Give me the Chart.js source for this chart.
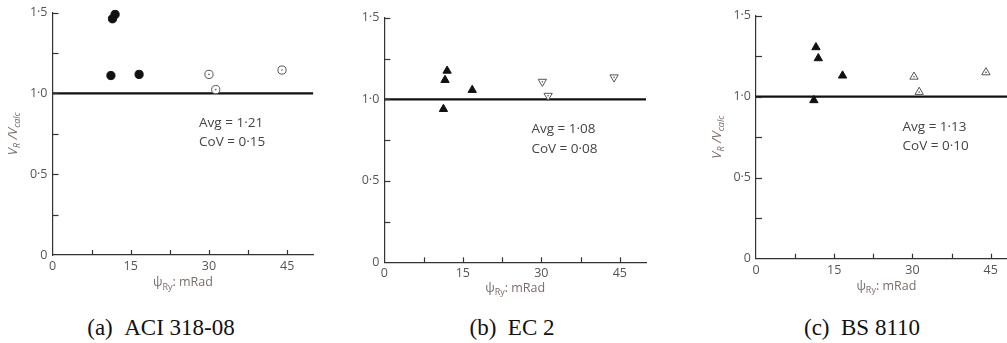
<!DOCTYPE html>
<html><head><meta charset="utf-8">
<script src="https://cdn.jsdelivr.net/npm/chart.js@4.4.0/dist/chart.umd.min.js"></script>
<style>
html,body{margin:0;padding:0;background:#fff;width:1007px;height:343px;overflow:hidden;position:relative}
.panel{position:absolute;top:0;height:300px;width:330px}
.cap{position:absolute;top:314px;font-family:"Liberation Serif","DejaVu Serif",serif;font-size:23px;line-height:28px;color:#111;white-space:nowrap;transform:translateX(-50%)}
</style></head><body>
<div class="panel" style="left:0"><canvas id="ca"></canvas></div>
<div class="panel" style="left:330px"><canvas id="cb"></canvas></div>
<div class="panel" style="left:700px"><canvas id="cc"></canvas></div>
<div class="cap" id="capA" style="left:161px"></div>
<div class="cap" id="capB" style="left:512px"></div>
<div class="cap" id="capC" style="left:862px"></div>
<script>
// ---- data ----
const xTickLabels = {0:'0', 15:'15', 30:'30', 45:'45'};
const yTickLabels = {0:'0', 0.5:'0·5', 1:'1·0', 1.5:'1·5'};
const refY = 1.0;
// (a) ACI 318-08
const aciFilledX = [11.2, 11.5, 12.0, 16.6];
const aciFilledY = [1.11, 1.461, 1.488, 1.117];
const aciOpenX = [30.0, 31.3, 44.0];
const aciOpenY = [1.117, 1.023, 1.144];
// (b) EC 2
const ecFilledX = [11.3, 11.6, 12.0, 16.8];
const ecFilledY = [0.94, 1.118, 1.175, 1.057];
const ecOpenX = [30.2, 31.3, 43.9];
const ecOpenY = [1.108, 1.022, 1.135];
// (c) BS 8110
const bsFilledX = [11.1, 11.5, 11.95, 16.6];
const bsFilledY = [0.978, 1.305, 1.237, 1.13];
const bsOpenX = [30.3, 31.3, 44.1];
const bsOpenY = [1.123, 1.029, 1.15];
const avgLabels = ['Avg = 1·21', 'Avg = 1·08', 'Avg = 1·13'];
const covLabels = ['CoV = 0·15', 'CoV = 0·08', 'CoV = 0·10'];
const captions = ['(a)\u2002ACI 318-08', '(b)\u2002EC 2', '(c)\u2002BS 8110'];

document.getElementById('capA').textContent = captions[0];
document.getElementById('capB').textContent = captions[1];
document.getElementById('capC').textContent = captions[2];

const FONT = "'Open Sans','Noto Sans',sans-serif";
Chart.defaults.font.family = FONT;
Chart.defaults.color = '#555';

function pts(xs, ys){ return xs.map((x,i)=>({x:x, y:ys[i]})); }

const decor = {
  id:'decor',
  afterDraw(chart){
    const o = chart.options.plugins.decor;
    const ctx = chart.ctx, xs = chart.scales.x, ys = chart.scales.y, ca = chart.chartArea;
    ctx.save();
    // inward tick marks
    ctx.strokeStyle = '#333'; ctx.lineWidth = 1.2;
    ys.ticks.forEach(t=>{
      if (t.value <= 0 || Math.abs(t.value/0.25 - Math.round(t.value/0.25))>1e-6) return;
      const py = Math.round(ys.getPixelForValue(t.value))+0.5;
      ctx.beginPath(); ctx.moveTo(ca.left, py); ctx.lineTo(ca.left+6, py); ctx.stroke();
    });
    xs.ticks.forEach(t=>{
      if (t.value <= 0 || Math.abs(t.value/7.5 - Math.round(t.value/7.5))>1e-6) return;
      const px = Math.round(xs.getPixelForValue(t.value))+0.5;
      ctx.beginPath(); ctx.moveTo(px, ca.bottom); ctx.lineTo(px, ca.bottom-5); ctx.stroke();
    });
    // annotations
    ctx.fillStyle = '#444'; ctx.font = '13.5px '+FONT; ctx.textBaseline='middle'; ctx.textAlign='left';
    ctx.fillText(o.avg, xs.getPixelForValue(28.1), ys.getPixelForValue(0.815));
    ctx.fillText(o.cov, xs.getPixelForValue(28.1), ys.getPixelForValue(0.695));
    // x title: psi_Ry: mRad
    const tc = '#7a6d68';
    ctx.fillStyle = tc;
    const big = '12.5px '+FONT, small = '9px '+FONT;
    ctx.font = big; const w1 = ctx.measureText('ψ').width, w3 = ctx.measureText(': mRad').width;
    ctx.font = small; const w2 = ctx.measureText('Ry').width;
    let x0 = (ca.left+ca.right)/2 - (w1+w2+w3)/2, yT = o.xTitleY;
    ctx.textBaseline='alphabetic';
    ctx.font = big; ctx.fillText('ψ', x0, yT+4.5);
    ctx.font = small; ctx.fillText('Ry', x0+w1, yT+8);
    ctx.font = big; ctx.fillText(': mRad', x0+w1+w2, yT+4.5);
    // y title: V_R / V_calc
    if (o.yTitleX !== null) {
      ctx.translate(o.yTitleX, (ca.top+ca.bottom)/2);
      ctx.rotate(-Math.PI/2);
      const ib = 'italic 13px '+FONT, is = 'italic 9px '+FONT;
      const parts = [['V',ib,0],['R',is,3],[' /',ib,0],['V',ib,0],['calc',is,3]];
      let tw = 0; parts.forEach(p=>{ctx.font=p[1]; p.push(ctx.measureText(p[0]).width); tw+=p[3];});
      let cx = -tw/2;
      parts.forEach(p=>{ctx.font=p[1]; ctx.fillText(p[0], cx, 4.5+p[2]); cx+=p[3];});
    }
    ctx.restore();
  }
};

function makeChart(id, filled, open, cfg){
  const datasets = [
    {data: filled, pointStyle: cfg.filledStyle, pointRadius: cfg.filledR, pointRotation: 0, clip:false,
     backgroundColor:'#111', borderColor:'#111', borderWidth:1, showLine:false, order:1},
    {data: open, pointStyle: cfg.openStyle, pointRadius: cfg.openR, pointRotation: cfg.openRot, clip:false,
     backgroundColor:'#fff', borderColor:'#555', borderWidth:1, showLine:false, order:1},
    {data: open, pointStyle:'circle', pointRadius:0.8, backgroundColor:'#555', borderWidth:0, showLine:false, clip:false, order:0},
    {type:'line', data:[{x:0,y:refY},{x:cfg.xMax,y:refY}], borderColor:'#111', borderWidth:2.2, pointRadius:0, order:5}
  ];
  return new Chart(document.getElementById(id), {
    type:'scatter',
    data:{datasets},
    plugins:[decor],
    options:{
      responsive:true, maintainAspectRatio:false, animation:false,
      layout:{padding:{top:cfg.padTop, right:cfg.padRight, left:0, bottom:0}},
      plugins:{legend:{display:false}, tooltip:{enabled:false},
        decor:{avg:cfg.avg, cov:cfg.cov, xTitleY:cfg.xTitleY, yTitleX:cfg.yTitleX}},
      scales:{
        x:{type:'linear', min:0, max:cfg.xMax,
          afterBuildTicks: s=>{ s.ticks = s.ticks.filter(t=>Math.abs(t.value/7.5-Math.round(t.value/7.5))<1e-6); },
          ticks:{stepSize:7.5, padding:4, autoSkip:false, maxRotation:0, color:'#555', font:{size:12.5},
            callback:v=> (xTickLabels[v] !== undefined ? xTickLabels[v] : '')},
          grid:{drawOnChartArea:false, drawTicks:false},
          border:{display:true, color:'#333', width:1.2},
          afterFit: s=>{ s.height = cfg.xAxisH; }},
        y:{type:'linear', min:0, max:1.5,
          ticks:{stepSize:0.25, padding:5, autoSkip:false, color:'#555', font:{size:12.5},
            callback:v=> (yTickLabels[v] !== undefined ? yTickLabels[v] : '')},
          grid:{drawOnChartArea:false, drawTicks:false},
          border:{display:true, color:'#333', width:1.2},
          afterFit: s=>{ s.width = cfg.yAxisW; }}
      }
    }
  });
}

makeChart('ca', pts(aciFilledX, aciFilledY), pts(aciOpenX, aciOpenY), {
  filledStyle:'circle', filledR:4.1, openStyle:'circle', openR:4.1, openRot:0, xMax:50,
  padTop:12.3, padRight:16.7, xAxisH:45, yAxisW:52.5, avg:avgLabels[0], cov:covLabels[0],
  xTitleY:281.7, yTitleX:12.5});
makeChart('cb', pts(ecFilledX, ecFilledY), pts(ecOpenX, ecOpenY), {
  filledStyle:'triangle', filledR:4.8, openStyle:'triangle', openR:4.8, openRot:180, xMax:50,
  padTop:17.8, padRight:14, xAxisH:37.7, yAxisW:54.3, avg:avgLabels[1], cov:covLabels[1],
  xTitleY:287, yTitleX:null});
makeChart('cc', pts(bsFilledX, bsFilledY), pts(bsOpenX, bsOpenY), {
  filledStyle:'triangle', filledR:4.8, openStyle:'triangle', openR:4.8, openRot:0, xMax:50,
  padTop:15.7, padRight:13.3, xAxisH:41.3, yAxisW:56, avg:avgLabels[2], cov:covLabels[2],
  xTitleY:285, yTitleX:16.7});
</script>
</body></html>
